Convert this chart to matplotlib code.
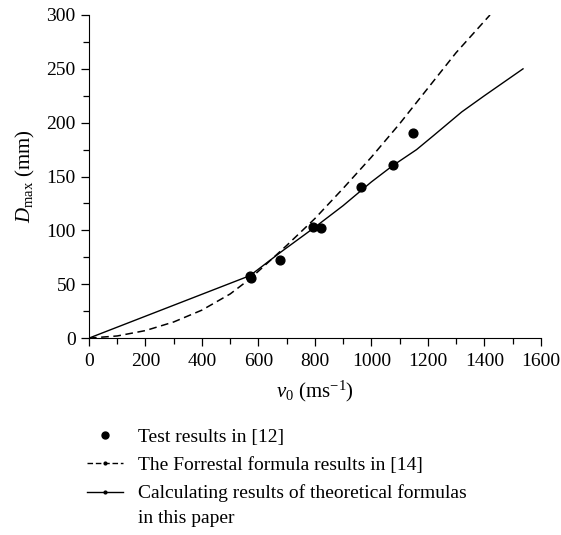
import matplotlib
matplotlib.use("Agg")
import matplotlib.pyplot as plt
from matplotlib.lines import Line2D
from matplotlib.ticker import MultipleLocator

plt.rcParams["font.family"] = ["Liberation Serif", "DejaVu Serif"]
plt.rcParams["mathtext.fontset"] = "custom"
plt.rcParams["mathtext.rm"] = "Liberation Serif"
plt.rcParams["mathtext.it"] = "Liberation Serif:italic"

# test points
test_v = [570, 572, 678, 794, 820, 965, 1075, 1146]
test_d = [57.5, 55.5, 72.4, 103, 102.5, 140.5, 160.6, 190.3]

# Forrestal formula curve
forr_v = [0, 100, 200, 300, 400, 500, 570, 650, 700, 800, 900, 1000, 1100, 1200, 1300, 1420]
forr_d = [0, 2, 7, 15, 26, 41, 55, 74, 86, 111, 139, 168, 199, 232, 265, 300]

# theoretical formula curve
calc_v = [0, 570, 680, 800, 900, 1000, 1075, 1160, 1220, 1270, 1320, 1400, 1537]
calc_d = [0, 58, 80, 103, 123, 145, 160, 175, 188, 199, 210, 225, 250]

labels = [
    "Test results in [12]",
    "The Forrestal formula results in [14]",
    "Calculating results of theoretical formulas",
]
label_cont = "in this paper"

fig = plt.figure(figsize=(5.61, 5.35), dpi=100)
ax = fig.add_axes([0.1586, 0.368, 0.8054, 0.604])

ax.plot(forr_v, forr_d, color="black", lw=1.1, ls=(0, (5, 3)))
ax.plot(calc_v, calc_d, color="black", lw=1.0)
ax.scatter(test_v, test_d, s=40, color="black", zorder=3)

ax.set_xlim(0, 1600)
ax.set_ylim(0, 300)
ax.xaxis.set_major_locator(MultipleLocator(200))
ax.xaxis.set_minor_locator(MultipleLocator(100))
ax.yaxis.set_major_locator(MultipleLocator(50))
ax.yaxis.set_minor_locator(MultipleLocator(25))
ax.spines["top"].set_visible(False)
ax.spines["right"].set_visible(False)
ax.tick_params(which="major", length=6, width=0.9, labelsize=14, direction="out")
ax.tick_params(which="minor", length=4, width=0.9, direction="out")
ax.tick_params(axis="x", which="major", pad=5)

ax.set_xlabel("$v_0$ (ms$^{-1}$)", fontsize=15, labelpad=6)
ax.set_ylabel("$D_{\\mathrm{max}}$ (mm)", fontsize=15, labelpad=7)

handles = [
    Line2D([], [], color="black", ls="none", marker="o", markersize=5),
    Line2D([], [], color="black", ls=(0, (4, 2)), lw=1, marker="o", markersize=2),
    Line2D([], [], color="black", lw=1, marker="o", markersize=2),
]
leg = fig.legend(handles, labels, loc="upper left", bbox_to_anchor=(0.155, 0.2),
                 frameon=False, fontsize=14, handlelength=1.85, handletextpad=0.75,
                 labelspacing=0.55, borderpad=0, borderaxespad=0)

# second line of the last legend label
fig.canvas.draw()
bb = leg.get_texts()[2].get_window_extent()
W, H = fig.bbox.width, fig.bbox.height
fig.text(bb.x0 / W, (bb.y0 + bb.y1) / 2 / H - 25 / H, label_cont,
         fontsize=14, va="center", ha="left")

fig.savefig("out.png", dpi=100)
